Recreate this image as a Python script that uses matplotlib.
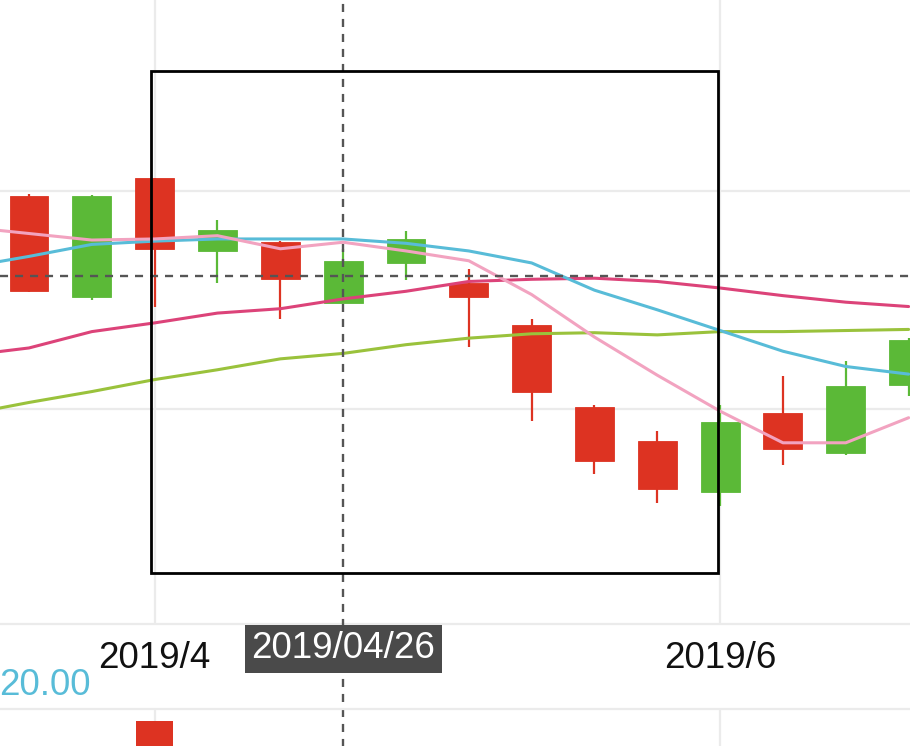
import matplotlib
matplotlib.use('Agg')
import matplotlib.pyplot as plt
from matplotlib.patches import Rectangle
import numpy as np

plt.rcParams['font.family'] = ['Liberation Sans', 'DejaVu Sans']
plt.rcParams['lines.scale_dashes'] = False

# ---------------- data ----------------
dates = ['2019/03/22', '2019/03/29', '2019/04/05', '2019/04/12', '2019/04/19',
         '2019/04/26', '2019/05/03', '2019/05/10', '2019/05/17', '2019/05/24',
         '2019/05/31', '2019/06/07', '2019/06/14', '2019/06/21', '2019/06/28']
open_ = [21.08, 21.95, 21.47, 21.64, 21.19, 21.36, 21.56, 21.03, 20.16, 19.52,
         19.27, 19.88, 19.63, 20.21, 20.63]
close = [21.95, 21.03, 22.12, 21.45, 21.53, 20.97, 21.34, 21.16, 20.77, 20.02,
         19.71, 19.24, 19.96, 19.60, 20.22]
high = [21.97, 21.96, 22.12, 21.73, 21.54, 21.47, 21.63, 21.28, 20.83, 20.04,
        19.80, 20.04, 20.30, 20.44, 20.65]
low = [21.07, 21.00, 20.94, 21.16, 20.83, 20.97, 21.18, 20.57, 19.89, 19.40,
       19.14, 19.11, 19.49, 19.58, 20.12]

ma_dates = ['2019/03/15'] + dates
ma5 = [21.67, 21.61, 21.55, 21.56, 21.59, 21.47, 21.53, 21.45, 21.36, 21.05,
       20.66, 20.31, 19.98, 19.69, 19.69, 19.92]
ma10 = [21.30, 21.40, 21.51, 21.54, 21.56, 21.56, 21.56, 21.52, 21.45, 21.34,
        21.09, 20.91, 20.72, 20.53, 20.39, 20.32]
ma20 = [20.49, 20.56, 20.71, 20.79, 20.88, 20.92, 21.01, 21.08, 21.17, 21.19,
        21.20, 21.17, 21.11, 21.04, 20.98, 20.94]
ma30 = [19.95, 20.06, 20.16, 20.27, 20.36, 20.46, 20.51, 20.59, 20.65, 20.69,
        20.70, 20.68, 20.71, 20.71, 20.72, 20.73]

vol_dates = ['2019/04/05']
vol_values = [9.4e7]

tick_dates = ['2019/04/05', '2019/06/07']
tick_texts = ['2019/4', '2019/6']
price_grid = [20.0, 22.0]

cursor_date = '2019/04/26'
cursor_price = 21.216
cursor_value_text = '20.00'

brush_x = [1.94, 10.97]
brush_y = [18.50, 23.10]

# ---------------- style ----------------
UP = '#dd3322'
DOWN = '#5bb937'
C_MA5 = '#f2a3c0'
C_MA10 = '#58bcd8'
C_MA20 = '#dc4379'
C_MA30 = '#9ac23c'
GRID = '#ebebeb'
FS = 26.5

W, H = 910, 746
fig = plt.figure(figsize=(W / 100, H / 100), dpi=100)
fig.patch.set_facecolor('white')

step = 62.83       # px per category
x0px = 29.0        # px of first category
ppu = 109.0        # px per price unit
main_bottom = 624.0

ax = fig.add_axes([0, 1 - main_bottom / H, 1, main_bottom / H])
ax.set_xlim(-x0px / step, (W - x0px) / step)
ax.set_ylim(22 - (main_bottom - 191) / ppu, 22 + 191 / ppu)

pos = {d: i for i, d in enumerate(dates)}
x = np.arange(len(dates))
xm = np.arange(-1, len(dates))

for s in ['top', 'left', 'right']:
    ax.spines[s].set_visible(False)
ax.spines['bottom'].set_color(GRID)
ax.spines['bottom'].set_linewidth(1.6)
ax.set_yticks(price_grid)
ax.set_yticklabels([])
ax.set_xticks([pos[d] for d in tick_dates])
ax.set_xticklabels(tick_texts, fontsize=FS, color='#111111')
ax.tick_params(axis='both', length=0)
ax.tick_params(axis='x', pad=12.0)
ax.grid(True, color=GRID, lw=1.6, zorder=0)
ax.set_axisbelow(True)

o = np.array(open_); c = np.array(close)
colors = [UP if cc >= oo else DOWN for oo, cc in zip(o, c)]
ax.vlines(x, low, high, colors=colors, lw=1.6, zorder=2)
ax.bar(x, np.abs(c - o), bottom=np.minimum(o, c), width=0.62, color=colors,
       edgecolor=colors, lw=0.6, zorder=3)

for vals, col in [(ma30, C_MA30), (ma20, C_MA20), (ma10, C_MA10), (ma5, C_MA5)]:
    ax.plot(xm, vals, color=col, lw=2.2, zorder=4, solid_capstyle='round',
            solid_joinstyle='round')

# crosshair
dash = (0, (5.8, 5.0))
ax.axhline(cursor_price, color='#555555', lw=1.7, linestyle=dash, zorder=5)
ax.axvline(pos[cursor_date], ymin=-(H - main_bottom) / main_bottom - 0.01, ymax=1,
           color='#555555', lw=1.7, linestyle=dash, zorder=5, clip_on=False)

# brush rectangle
ax.add_patch(Rectangle((brush_x[0], brush_y[0]), brush_x[1] - brush_x[0],
                       brush_y[1] - brush_y[0], fill=False, ec='black', lw=2.0,
                       zorder=6))

# cursor label
ax.annotate(cursor_date, xy=(pos[cursor_date], 1 - 649 / H),
            xycoords=('data', 'figure fraction'), ha='center', va='center',
            fontsize=FS, color='white', annotation_clip=False, zorder=10,
            bbox=dict(boxstyle='square,pad=0.18', fc='#4a4a4a', ec='none'))

# volume grid (extends below the visible area)
vol_top = 709.0
vol_h = 200.0
axv = fig.add_axes([0, 1 - (vol_top + vol_h) / H, 1, vol_h / H])
axv.patch.set_visible(False)
axv.set_xlim(ax.get_xlim())
axv.set_ylim(0, 1e8)
for s in ['bottom', 'left', 'right']:
    axv.spines[s].set_visible(False)
axv.spines['top'].set_color(GRID)
axv.spines['top'].set_linewidth(1.6)
axv.set_xticks([pos[d] for d in tick_dates])
axv.set_xticklabels([])
axv.set_yticks([])
axv.tick_params(length=0)
axv.grid(True, axis='x', color=GRID, lw=1.6, zorder=0)
axv.set_axisbelow(True)
vx = [pos[d] for d in vol_dates]
vcol = [colors[i] for i in vx]
axv.bar(vx, vol_values, width=0.58, color=vcol, zorder=3)

fig.text(91 / W, 1 - 695 / H, cursor_value_text, ha='right', va='baseline',
         fontsize=FS, color=C_MA10)

fig.savefig('out.png', dpi=100)
